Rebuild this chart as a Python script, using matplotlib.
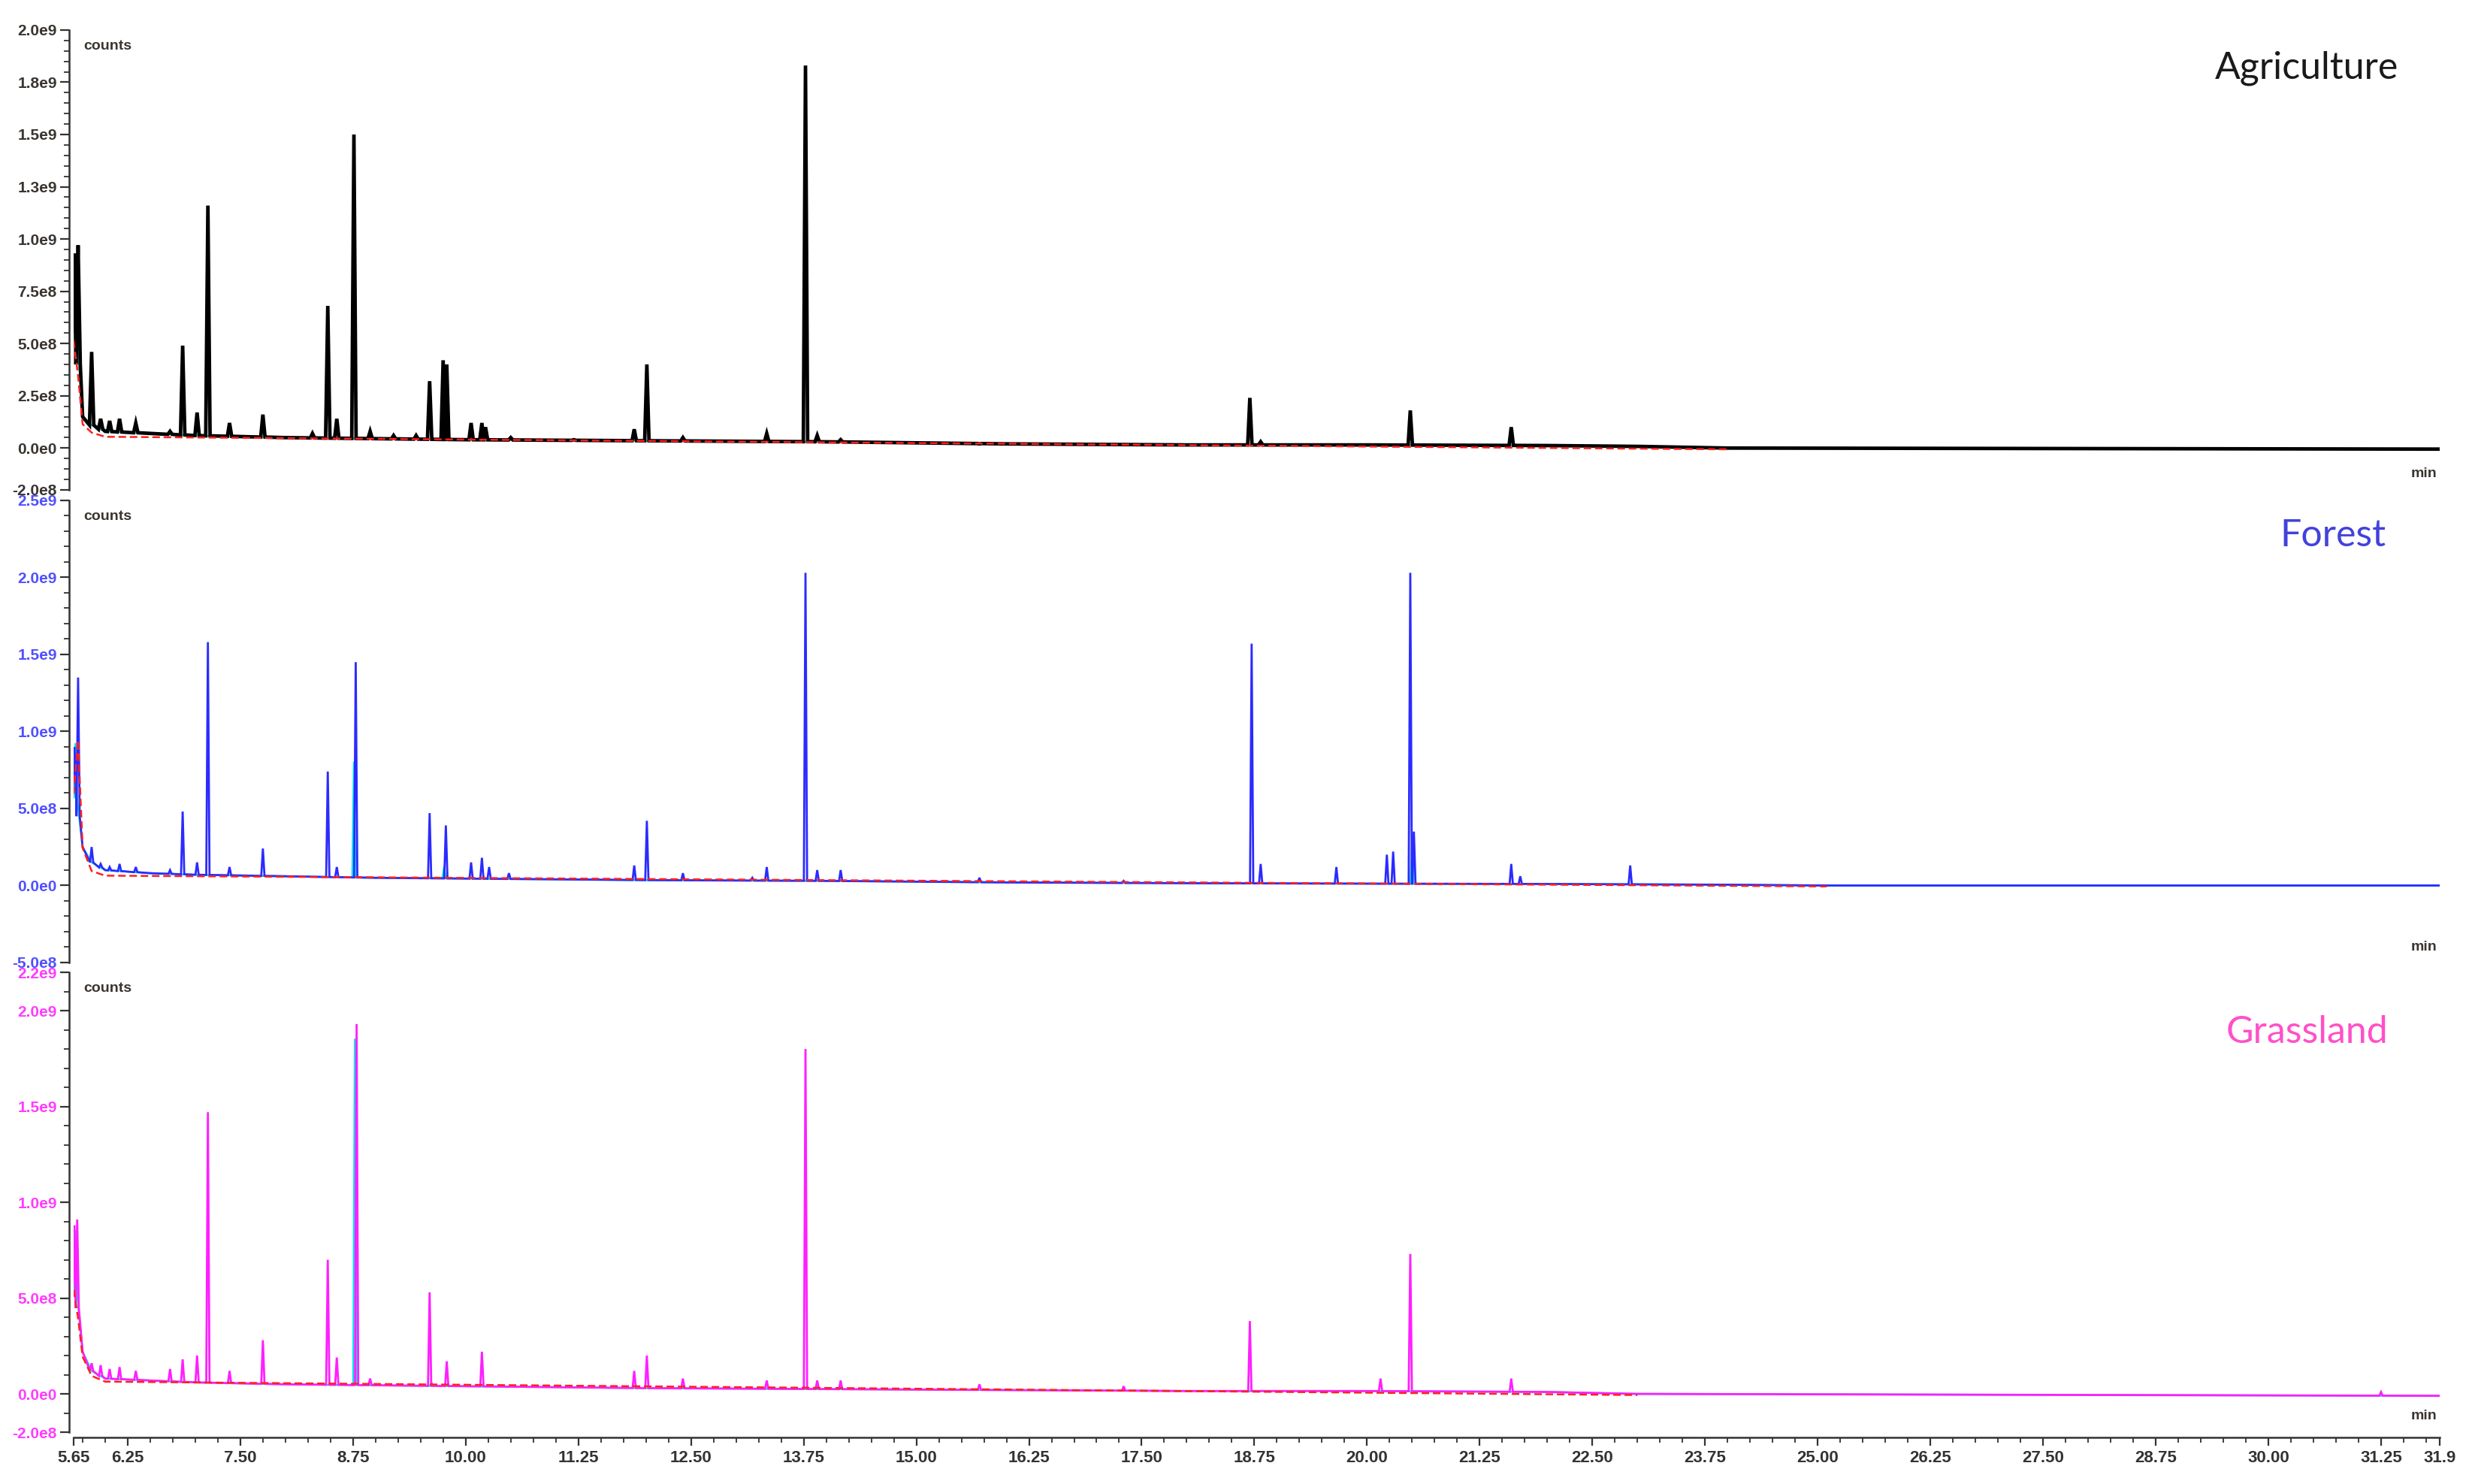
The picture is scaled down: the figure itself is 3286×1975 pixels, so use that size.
import numpy as np
import matplotlib
matplotlib.use("Agg")
import matplotlib.pyplot as plt
from matplotlib.ticker import FixedLocator, MultipleLocator

# ---- data (times in min, intensities in counts) ----
x_min, x_max = 5.65, 31.9
x_major = [5.65, 6.25, 7.50, 8.75, 10.00, 11.25, 12.50, 13.75, 15.00, 16.25, 17.50,
           18.75, 20.00, 21.25, 22.50, 23.75, 25.00, 26.25, 27.50, 28.75, 30.00, 31.25, 31.9]
x_labels = ["5.65", "6.25", "7.50", "8.75", "10.00", "11.25", "12.50", "13.75", "15.00", "16.25",
            "17.50", "18.75", "20.00", "21.25", "22.50", "23.75", "25.00", "26.25", "27.50",
            "28.75", "30.00", "31.25", "31.9"]

# Agriculture
agri_peak_t = [5.66, 5.70, 5.85, 5.95, 6.05, 6.16, 6.34, 6.72, 6.86, 7.02, 7.14, 7.38, 7.75,
               8.30, 8.47, 8.57, 8.76, 8.94, 9.20, 9.45, 9.60, 9.75, 9.79, 10.06, 10.18, 10.22,
               10.50, 11.20, 11.87, 12.01, 12.41, 13.34, 13.77, 13.90, 14.16, 15.70, 18.70,
               18.82, 20.48, 21.60]
agri_peak_h = [0.93e9, 0.97e9, 0.46e9, 0.14e9, 0.13e9, 0.14e9, 0.12e9, 0.08e9, 0.49e9, 0.17e9,
               1.16e9, 0.12e9, 0.16e9, 0.07e9, 0.68e9, 0.14e9, 1.50e9, 0.08e9, 0.06e9, 0.06e9,
               0.32e9, 0.42e9, 0.40e9, 0.12e9, 0.12e9, 0.10e9, 0.05e9, 0.04e9, 0.09e9, 0.40e9,
               0.05e9, 0.07e9, 1.83e9, 0.06e9, 0.04e9, 0.02e9, 0.24e9, 0.03e9, 0.18e9, 0.10e9]
agri_base_t = [5.65, 5.75, 5.85, 6.00, 6.50, 7.00, 8.00, 9.00, 10.00, 12.00, 14.00, 16.00,
               18.00, 20.00, 22.00, 23.00, 24.00, 31.90]
agri_base_v = [0.65e9, 0.15e9, 0.11e9, 0.08e9, 0.07e9, 0.06e9, 0.05e9, 0.045e9, 0.04e9, 0.035e9,
               0.03e9, 0.02e9, 0.015e9, 0.015e9, 0.012e9, 0.008e9, 0.0, -0.005e9]
agri_cyan_t = [5.67, 9.76, 10.20]
agri_cyan_h = [0.90e9, 0.25e9, 0.09e9]
agri_red_t = [5.65, 5.70, 5.75, 5.85, 6.00, 24.00]
agri_red_v = [0.52e9, 0.35e9, 0.12e9, 0.08e9, 0.06e9, 0.0]

# Forest
forest_peak_t = [5.66, 5.70, 5.85, 5.95, 6.05, 6.16, 6.34, 6.72, 6.86, 7.02, 7.14, 7.38, 7.75,
                 8.47, 8.57, 8.78, 9.60, 9.78, 10.06, 10.18, 10.26, 10.48, 11.87, 12.01, 12.41,
                 13.18, 13.34, 13.77, 13.90, 14.16, 15.70, 17.30, 18.72, 18.82, 19.66, 20.22,
                 20.29, 20.48, 20.52, 21.60, 21.70, 22.92]
forest_peak_h = [0.90e9, 1.35e9, 0.25e9, 0.14e9, 0.12e9, 0.14e9, 0.12e9, 0.10e9, 0.48e9,
                 0.15e9, 1.58e9, 0.12e9, 0.24e9, 0.74e9, 0.12e9, 1.45e9, 0.47e9, 0.39e9,
                 0.15e9, 0.18e9, 0.12e9, 0.08e9, 0.13e9, 0.42e9, 0.08e9, 0.05e9, 0.12e9,
                 2.03e9, 0.10e9, 0.10e9, 0.05e9, 0.03e9, 1.57e9, 0.14e9, 0.12e9, 0.20e9,
                 0.22e9, 2.03e9, 0.35e9, 0.14e9, 0.06e9, 0.13e9]
forest_base_t = [5.65, 5.75, 5.85, 6.00, 6.50, 7.00, 8.00, 9.00, 10.00, 12.00, 14.00, 16.00,
                 18.00, 20.00, 22.00, 24.00, 25.10, 31.90]
forest_base_v = [0.65e9, 0.25e9, 0.15e9, 0.10e9, 0.08e9, 0.07e9, 0.06e9, 0.05e9, 0.045e9,
                 0.035e9, 0.03e9, 0.02e9, 0.015e9, 0.012e9, 0.01e9, 0.005e9, 0.0, 0.0]
forest_cyan_t = [5.67, 8.76, 9.76, 20.50]
forest_cyan_h = [0.92e9, 0.80e9, 0.12e9, 0.30e9]
forest_red_t = [5.65, 5.70, 5.75, 5.85, 6.00, 25.10]
forest_red_v = [0.60e9, 0.95e9, 0.25e9, 0.10e9, 0.07e9, 0.0]

# Grassland
grass_peak_t = [5.66, 5.69, 5.85, 5.95, 6.05, 6.16, 6.34, 6.72, 6.86, 7.02, 7.14, 7.38, 7.75,
                8.47, 8.57, 8.79, 8.94, 9.60, 9.79, 10.18, 11.87, 12.01, 12.41, 13.34, 13.77,
                13.90, 14.16, 15.70, 17.30, 18.70, 20.15, 20.48, 21.60, 31.25]
grass_peak_h = [0.88e9, 0.91e9, 0.16e9, 0.15e9, 0.13e9, 0.14e9, 0.12e9, 0.13e9, 0.18e9,
                0.20e9, 1.47e9, 0.12e9, 0.28e9, 0.70e9, 0.19e9, 1.93e9, 0.08e9, 0.53e9,
                0.17e9, 0.22e9, 0.12e9, 0.20e9, 0.08e9, 0.07e9, 1.80e9, 0.07e9, 0.07e9,
                0.05e9, 0.04e9, 0.38e9, 0.08e9, 0.73e9, 0.08e9, 0.01e9]
grass_base_t = [5.65, 5.75, 5.85, 6.00, 6.50, 7.00, 8.00, 9.00, 10.00, 12.00, 14.00, 16.00,
                18.00, 20.00, 22.00, 23.00, 31.90]
grass_base_v = [0.60e9, 0.22e9, 0.12e9, 0.08e9, 0.07e9, 0.06e9, 0.05e9, 0.045e9, 0.04e9,
                0.03e9, 0.025e9, 0.02e9, 0.015e9, 0.015e9, 0.01e9, 0.0, -0.01e9]
grass_cyan_t = [5.67, 8.77, 9.62]
grass_cyan_h = [0.85e9, 1.85e9, 0.06e9]
grass_red_t = [5.65, 5.70, 5.75, 5.85, 6.00, 23.00]
grass_red_v = [0.55e9, 0.40e9, 0.20e9, 0.10e9, 0.07e9, 0.0]

panels = ["Agriculture", "Forest", "Grassland"]


def trace(base_t, base_v, peak_t, peak_h, w=0.018):
    # baseline points, with each peak drawn as a narrow spike on top
    pts = [(t, v) for t, v in zip(base_t, base_v)
           if all(abs(t - p) > w for p in peak_t)]
    for p, h in zip(peak_t, peak_h):
        foot = np.interp(p, base_t, base_v)
        pts += [(p - w, foot), (p, h), (p + w, foot)]
    pts.sort()
    return np.array(pts).T


def y_setup(ax, majors, labels, minor_step, color):
    ax.yaxis.set_major_locator(FixedLocator(majors))
    ax.set_yticklabels(labels)
    ax.yaxis.set_minor_locator(MultipleLocator(minor_step))
    ax.tick_params(axis="y", which="major", length=9, width=1.6, colors="#333333",
                   labelcolor=color, labelsize=15, pad=3)
    ax.tick_params(axis="y", which="minor", length=5, width=1.3, colors="#333333")
    for t in ax.get_yticklabels():
        t.set_fontfamily("Liberation Sans")
        t.set_fontweight("bold")


fig = plt.figure(figsize=(32.87, 19.75), dpi=100)
left, width = 0.0298, 0.958
ax1 = fig.add_axes([left, 0.6699, width, 0.3099])
ax2 = fig.add_axes([left, 0.3514, width, 0.3114])
ax3 = fig.add_axes([left, 0.0349, width, 0.3099])

setups = [
    (ax1, agri_base_t, agri_base_v, agri_peak_t, agri_peak_h, agri_cyan_t, agri_cyan_h,
     agri_red_t, agri_red_v, "black", 3.4, 0.024, (-2e8, 2e9)),
    (ax2, forest_base_t, forest_base_v, forest_peak_t, forest_peak_h, forest_cyan_t,
     forest_cyan_h, forest_red_t, forest_red_v, "#2b2bff", 2.0, 0.018, (-5e8, 2.5e9)),
    (ax3, grass_base_t, grass_base_v, grass_peak_t, grass_peak_h, grass_cyan_t,
     grass_cyan_h, grass_red_t, grass_red_v, "#ff1fff", 2.0, 0.018, (-2e8, 2.2e9)),
]

for ax, bt, bv, pt, ph, ct, ch, rt, rv, col, lw, w, ylim in setups:
    cx, cy = trace(bt, bv, ct, ch)
    ax.plot(cx, cy, color="#00e5e5", lw=1.8, zorder=2)
    tx, ty = trace(bt, bv, pt, ph, w)
    ax.plot(tx, ty, color=col, lw=lw, zorder=3, solid_joinstyle="miter")
    ax.plot(rt, np.array(rv) - 0.006e9, color="#ff2020", lw=1.8, ls=(0, (4, 2)), zorder=4)
    ax.set_xlim(x_min, x_max)
    ax.set_ylim(*ylim)
    for s in ["top", "right", "bottom"]:
        ax.spines[s].set_visible(False)
    ax.spines["left"].set_position(("outward", 4))
    ax.spines["left"].set_linewidth(1.8)
    ax.spines["left"].set_color("#333333")
    ax.patch.set_alpha(0)

y_setup(ax1, [-2e8, 0, 2.5e8, 5e8, 7.5e8, 1e9, 1.25e9, 1.5e9, 1.75e9, 2e9],
        ["-2.0e8", "0.0e0", "2.5e8", "5.0e8", "7.5e8", "1.0e9", "1.3e9", "1.5e9", "1.8e9", "2.0e9"],
        5e7, "#3a3530")
y_setup(ax2, [-5e8, 0, 5e8, 1e9, 1.5e9, 2e9, 2.5e9],
        ["-5.0e8", "0.0e0", "5.0e8", "1.0e9", "1.5e9", "2.0e9", "2.5e9"],
        1e8, "#5050ff")
y_setup(ax3, [-2e8, 0, 5e8, 1e9, 1.5e9, 2e9, 2.2e9],
        ["-2.0e8", "0.0e0", "5.0e8", "1.0e9", "1.5e9", "2.0e9", "2.2e9"],
        1e8, "#ff3cff")

for ax in (ax1, ax2):
    ax.set_xticks([])

ax3.spines["bottom"].set_visible(True)
ax3.spines["bottom"].set_position(("outward", 5))
ax3.spines["bottom"].set_linewidth(1.8)
ax3.spines["bottom"].set_color("#333333")
ax3.xaxis.set_major_locator(FixedLocator(x_major))
ax3.set_xticklabels(x_labels)
ax3.xaxis.set_minor_locator(FixedLocator(np.arange(5.75, 31.9, 0.25)))
ax3.tick_params(axis="x", which="major", length=8, width=1.6, colors="#333333",
                labelsize=16, pad=4)
ax3.tick_params(axis="x", which="minor", length=5, width=1.3, colors="#333333")
for t in ax3.get_xticklabels():
    t.set_fontfamily(["Liberation Sans Narrow", "Liberation Sans"])
    t.set_fontweight("bold")

# "counts" and "min" captions
for y_counts, y_min in [(0.969, 0.681), (0.652, 0.362), (0.334, 0.046)]:
    fig.text(0.0338, y_counts, "counts", fontsize=14, fontweight="bold",
             color="#3a3530", family="Liberation Sans", va="center")
    fig.text(0.9815, y_min, "min", fontsize=14, fontweight="bold",
             color="#3a3530", family="Liberation Sans", va="center", ha="center")

# panel names
fig.text(0.934, 0.954, "Agriculture", fontsize=36, color="#1a1a1a", family="Lato",
         ha="center", va="center")
fig.text(0.9445, 0.639, "Forest", fontsize=36, color="#4242dc", family="Lato",
         ha="center", va="center")
fig.text(0.934, 0.3045, "Grassland", fontsize=36, color="#ff50c8", family="Lato",
         ha="center", va="center")

fig.savefig("out.png", dpi=100, facecolor="white")
